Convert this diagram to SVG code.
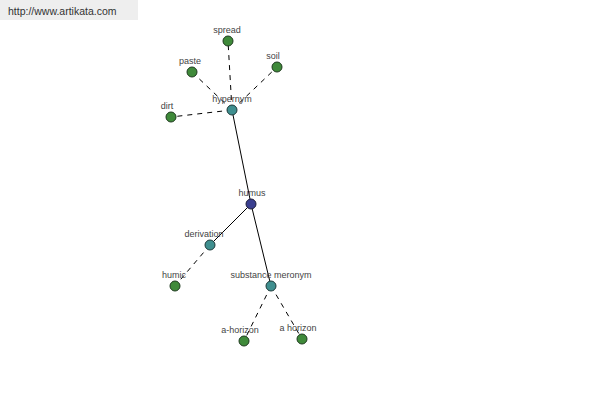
<svg xmlns="http://www.w3.org/2000/svg" width="600" height="400" viewBox="0 0 600 400">
<style>
.lbl{font-family:"Liberation Sans",Arial,sans-serif;font-size:9px;fill:#444;text-anchor:middle}
.leaf{fill:#3f8a3a;stroke:#1e3a1e;stroke-width:1}
.mid{fill:#3f8f8f;stroke:#1e3a3a;stroke-width:1}
.root{fill:#3a3f90;stroke:#1e1e3a;stroke-width:1}
.solid{stroke:#000;stroke-width:1;fill:none}
.dash{stroke:#000;stroke-width:1;fill:none;stroke-dasharray:5,5}
</style>
<rect x="0" y="0" width="600" height="400" fill="#fff"/>
<rect x="0" y="0" width="138" height="20" fill="#eeeeee"/>
<text x="8" y="15" font-family="Liberation Sans,Arial,sans-serif" font-size="10.5" fill="#333">http://www.artikata.com</text>
<g id="connectors">
<line class="solid" x1="251" y1="204" x2="232" y2="110"/>
<line class="solid" x1="251" y1="204" x2="210" y2="245"/>
<line class="solid" x1="251" y1="204" x2="271" y2="286"/>
<line class="dash" x1="232" y1="110" x2="228" y2="41"/>
<line class="dash" x1="232" y1="110" x2="192" y2="72"/>
<line class="dash" x1="232" y1="110" x2="277" y2="67"/>
<line class="dash" x1="232" y1="110" x2="171" y2="117"/>
<line class="dash" x1="210" y1="245" x2="175" y2="286"/>
<line class="dash" x1="271" y1="286" x2="244" y2="341"/>
<line class="dash" x1="271" y1="286" x2="302" y2="339"/>
</g>
<g id="spread"><circle class="leaf" cx="228" cy="41" r="5"/><text class="lbl" x="227" y="33">spread</text></g>
<g id="paste"><circle class="leaf" cx="192" cy="72" r="5"/><text class="lbl" x="190" y="64">paste</text></g>
<g id="soil"><circle class="leaf" cx="277" cy="67" r="5"/><text class="lbl" x="273" y="59">soil</text></g>
<g id="dirt"><circle class="leaf" cx="171" cy="117" r="5"/><text class="lbl" x="167" y="109">dirt</text></g>
<g id="hypernym"><circle class="mid" cx="232" cy="110" r="5"/><text class="lbl" x="232" y="102">hypernym</text></g>
<g id="humus"><circle class="root" cx="251" cy="204" r="5"/><text class="lbl" x="252" y="196">humus</text></g>
<g id="derivation"><circle class="mid" cx="210" cy="245" r="5"/><text class="lbl" x="204" y="237">derivation</text></g>
<g id="humic"><circle class="leaf" cx="175" cy="286" r="5"/><text class="lbl" x="174" y="278">humic</text></g>
<g id="substance-meronym"><circle class="mid" cx="271" cy="286" r="5"/><text class="lbl" x="271" y="278">substance meronym</text></g>
<g id="a-horizon"><circle class="leaf" cx="244" cy="341" r="5"/><text class="lbl" x="240" y="333">a-horizon</text></g>
<g id="a-horizon-2"><circle class="leaf" cx="302" cy="339" r="5"/><text class="lbl" x="298" y="331">a horizon</text></g>
</svg>
